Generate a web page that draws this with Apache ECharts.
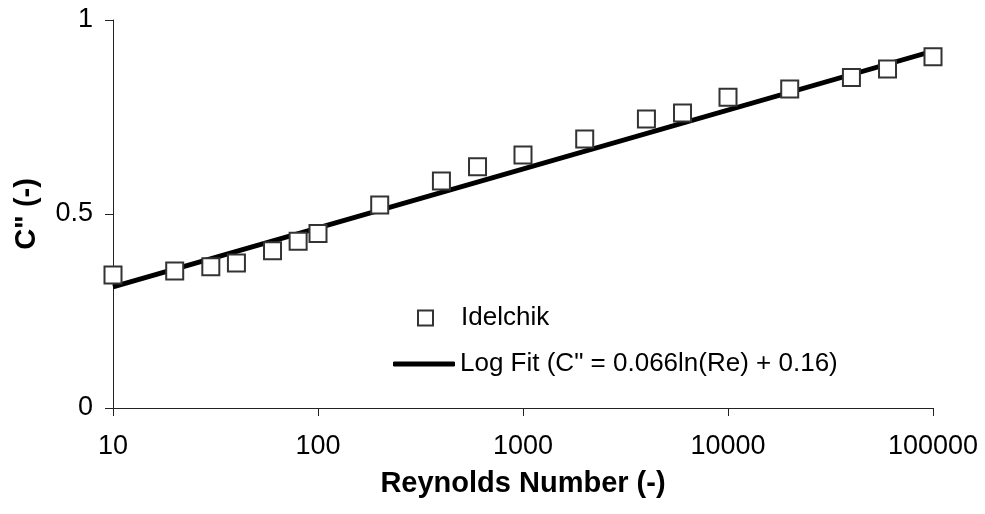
<!DOCTYPE html>
<html>
<head>
<meta charset="utf-8">
<script src="https://cdn.jsdelivr.net/npm/echarts@6/dist/echarts.min.js"></script>
<style>
  html, body { margin: 0; padding: 0; background: #fff; }
  #chart { width: 985px; height: 514px; }
</style>
</head>
<body>
<div id="chart"></div>
<script>
// Idelchik loss coefficient C'' versus Reynolds number
const reynolds = [10, 20, 30, 40, 60, 80, 100, 200, 400, 600, 1000, 2000, 4000, 6000, 10000, 20000, 40000, 60000, 100000];
const cIdelchik = [0.343, 0.353, 0.364, 0.374, 0.405, 0.430, 0.450, 0.523, 0.585, 0.622, 0.652, 0.693, 0.745, 0.760, 0.801, 0.822, 0.852, 0.874, 0.905];

// Logarithmic trend line C'' = 0.066 ln(Re) + 0.16 (straight on a log axis: end points only)
const fitRe = [10, 115000];
const fitC = [0.312, 0.929];

const xTicks = [10, 100, 1000, 10000, 100000];
const yTicks = [0, 0.5, 1];

const FONT = '"Liberation Sans", Arial, sans-serif';

const chart = echarts.init(document.getElementById('chart'), null, { renderer: 'canvas' });

chart.setOption({
  animation: false,
  backgroundColor: '#fff',
  textStyle: { fontFamily: FONT, color: '#000' },
  grid: { left: 113, right: 52, top: 20, bottom: 106, containLabel: false },
  xAxis: {
    type: 'log',
    logBase: 10,
    min: xTicks[0],
    max: xTicks[xTicks.length - 1],
    name: 'Reynolds Number (-)',
    nameLocation: 'middle',
    nameGap: 61,
    nameTextStyle: { fontFamily: FONT, fontWeight: 'bold', fontSize: 29, color: '#000' },
    axisLine: { show: true, lineStyle: { color: '#222', width: 1 } },
    axisTick: { show: true, inside: false, length: 8, lineStyle: { color: '#222' } },
    minorTick: { show: false },
    splitLine: { show: false },
    axisLabel: { fontFamily: FONT, fontSize: 27, color: '#000', margin: 25, formatter: v => String(Math.round(v)) }
  },
  yAxis: {
    type: 'value',
    min: yTicks[0],
    max: yTicks[yTicks.length - 1],
    interval: 0.5,
    name: 'C" (-)',
    nameLocation: 'middle',
    nameGap: 72,
    nameRotate: 90,
    nameTextStyle: { fontFamily: FONT, fontWeight: 'bold', fontSize: 29, color: '#000' },
    axisLine: { show: true, lineStyle: { color: '#222', width: 1 } },
    axisTick: { show: true, inside: false, length: 8, lineStyle: { color: '#222' } },
    splitLine: { show: false },
    axisLabel: { fontFamily: FONT, fontSize: 27, color: '#000', margin: 20 }
  },
  legend: [
    {
      data: ['Idelchik'],
      left: 412,
      top: 300,
      itemWidth: 15,
      itemHeight: 15,
      icon: 'rect',
      itemStyle: { color: '#fff', borderColor: '#333', borderWidth: 2 },
      textStyle: { fontFamily: FONT, fontSize: 26, color: '#000', padding: [0, 0, 0, 23] }
    },
    {
      data: ['Log Fit (C" = 0.066ln(Re) + 0.16)'],
      left: 388,
      top: 346,
      itemWidth: 62,
      itemHeight: 5,
      icon: 'roundRect',
      itemStyle: { color: '#000' },
      textStyle: { fontFamily: FONT, fontSize: 26, color: '#000' }
    }
  ],
  series: [
    {
      name: 'Log Fit (C" = 0.066ln(Re) + 0.16)',
      type: 'line',
      data: fitRe.map((re, i) => [re, fitC[i]]),
      showSymbol: false,
      symbol: 'none',
      clip: false,
      lineStyle: { color: '#000', width: 5 },
      itemStyle: { color: '#000' },
      z: 2
    },
    {
      name: 'Idelchik',
      type: 'scatter',
      data: reynolds.map((re, i) => [re, cIdelchik[i]]),
      symbol: 'rect',
      symbolSize: 17,
      clip: false,
      itemStyle: { color: '#fff', borderColor: '#333', borderWidth: 2, opacity: 1 },
      z: 3
    }
  ]
});
</script>
</body>
</html>
